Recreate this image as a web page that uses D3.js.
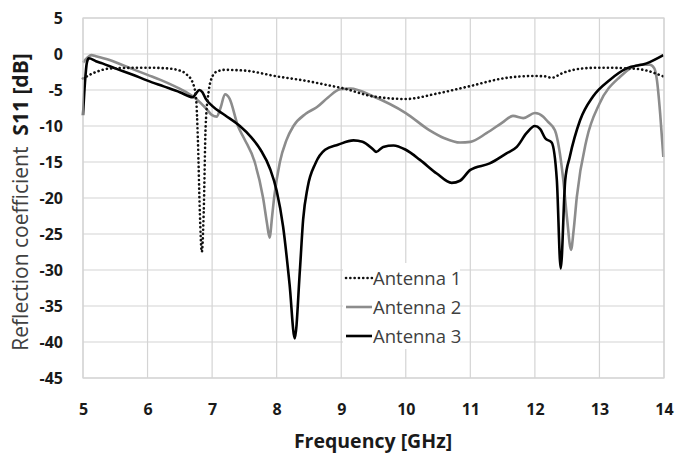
<!DOCTYPE html>
<html><head><meta charset="utf-8">
<script src="https://cdn.jsdelivr.net/npm/d3@7"></script>
<style>body{margin:0;background:#fff}svg{display:block}</style>
</head><body>
<svg id="c" width="676" height="453"></svg>
<script>
const xTicks = [5,6,7,8,9,10,11,12,13,14];
const yTicks = [5,0,-5,-10,-15,-20,-25,-30,-35,-40,-45];
const seriesNames = ["Antenna 1","Antenna 2","Antenna 3"];

const ant1F = [5.0,5.1,5.2,5.3,5.42,5.6,6.0,6.3,6.5,6.6,6.7,6.75,6.78,6.81,6.84,6.87,6.9,6.95,7.0,7.07,7.2,7.5,8.0,8.5,8.83,9.0,9.5,10.0,10.48,11.0,11.5,12.0,12.15,12.26,12.44,12.75,13.0,13.47,13.73,13.9,14.0];
const ant1V = [-3.4,-2.9,-2.5,-2.2,-2.0,-1.95,-1.9,-2.0,-2.3,-2.8,-4.0,-6.0,-12,-22,-27.5,-22,-10,-5.0,-3.2,-2.45,-2.2,-2.3,-3.1,-3.8,-4.4,-4.7,-5.9,-6.25,-5.5,-4.45,-3.4,-3.05,-3.1,-3.3,-2.6,-2.0,-1.9,-2.0,-2.3,-2.8,-3.15];

const ant2F = [5.0,5.07,5.13,5.2,5.4,5.6,5.8,6.0,6.2,6.4,6.6,6.75,6.9,7.0,7.07,7.13,7.2,7.27,7.4,7.5,7.66,7.79,7.85,7.89,7.93,7.96,8.05,8.15,8.26,8.45,8.62,8.8,8.98,9.14,9.5,10.0,10.37,10.6,10.84,11.0,11.25,11.5,11.66,11.82,12.0,12.13,12.2,12.31,12.44,12.5,12.56,12.6,12.65,12.8,13.0,13.32,13.63,13.78,13.85,13.89,13.94,13.99];
const ant2V = [-1.2,-0.5,-0.15,-0.3,-0.8,-1.5,-2.2,-2.9,-3.6,-4.4,-5.3,-6.2,-7.5,-8.5,-8.7,-7.5,-5.6,-6.2,-10,-11.8,-15,-20,-23.5,-25.5,-22.5,-20,-15,-12,-10,-8.3,-7.4,-6,-4.9,-4.8,-5.9,-8.2,-10.6,-11.7,-12.3,-12.2,-11.0,-9.5,-8.6,-8.9,-8.2,-8.7,-9.4,-10.6,-17.5,-23,-27.2,-24.5,-19.8,-11.9,-6.9,-3.15,-1.5,-1.5,-2.0,-3.6,-8.2,-14.3];

const ant3F = [5.0,5.03,5.06,5.09,5.2,5.3,5.5,5.75,6.0,6.25,6.5,6.7,6.75,6.8,6.85,6.9,7.0,7.2,7.43,7.6,7.75,7.9,8.0,8.1,8.2,8.28,8.36,8.41,8.48,8.6,8.75,8.95,9.19,9.33,9.5,9.54,9.65,9.81,10.0,10.22,10.48,10.71,10.84,11.0,11.3,11.56,11.72,11.87,12.0,12.08,12.16,12.26,12.34,12.4,12.47,12.54,12.7,12.9,13.16,13.42,13.73,13.99];
const ant3V = [-8.5,-4.0,-1.2,-0.6,-1.0,-1.3,-2.0,-2.8,-3.7,-4.5,-5.3,-6.0,-5.5,-5.0,-5.3,-6.2,-7.2,-8.5,-10.0,-11.5,-13.3,-16.0,-19.0,-24.0,-32.0,-39.5,-30,-23,-18.5,-15.2,-13.3,-12.6,-12.0,-12.2,-13.3,-13.6,-12.9,-12.7,-13.3,-14.7,-16.6,-17.9,-17.6,-16.1,-15.2,-13.8,-12.9,-11.0,-10.0,-10.4,-11.7,-12.3,-17.5,-29.8,-17.5,-14.3,-9.2,-5.9,-3.6,-2.0,-1.3,-0.15];

const svg = d3.select("#c");
const L = 83, R = 664, T = 18, B = 378;
const x = d3.scaleLinear().domain([5,14]).range([L,R]);
const y = d3.scaleLinear().domain([-45,5]).range([B,T]);
const font = "'Open Sans', 'Liberation Sans', sans-serif";

// gridlines
const g = svg.append("g");
g.selectAll(".vg").data(xTicks).enter().append("line")
  .attr("x1", d=>x(d)).attr("x2", d=>x(d)).attr("y1", T).attr("y2", B)
  .attr("stroke", "#d4d4d4").attr("stroke-width", 1.2);
g.selectAll(".hg").data(yTicks).enter().append("line")
  .attr("x1", L).attr("x2", R).attr("y1", d=>y(d)).attr("y2", d=>y(d))
  .attr("stroke", "#d4d4d4").attr("stroke-width", 1.2);

// axes (labels only)
const fmt = d => String(d);
const xAxis = d3.axisBottom(x).tickValues(xTicks).tickSize(0).tickPadding(0).tickFormat(fmt);
const xg = svg.append("g").attr("transform", `translate(0,${B+37})`).call(xAxis);
xg.select(".domain").remove();
xg.selectAll("text").attr("dy", 0).attr("font-family", font).attr("font-weight", "bold").attr("font-size", 16).attr("fill", "#1a1a1a");

const yAxis = d3.axisLeft(y).tickValues(yTicks).tickSize(0).tickPadding(0).tickFormat(fmt);
const yg = svg.append("g").attr("transform", `translate(${L-20},0)`).call(yAxis);
yg.select(".domain").remove();
yg.selectAll("text").attr("dy", "0.36em").attr("font-family", font).attr("font-weight", "bold").attr("font-size", 16).attr("fill", "#1a1a1a");

// titles
svg.append("text").attr("x", 373).attr("y", 448).attr("text-anchor", "middle")
  .attr("font-family", font).attr("font-weight", "bold").attr("font-size", 19.5).attr("fill", "#1a1a1a")
  .text("Frequency [GHz]");
const yt = svg.append("text").attr("transform", "translate(28,202) rotate(-90)").attr("text-anchor", "middle")
  .attr("font-family", font).attr("font-size", 21).attr("fill", "#404040");
yt.append("tspan").text("Reflection coefficient\u00a0\u00a0");
yt.append("tspan").attr("font-weight", "bold").attr("fill", "#1a1a1a").text("S11 [dB]");

// lines
const line = d3.line().x(d=>x(d[0])).y(d=>y(d[1])).curve(d3.curveMonotoneX);
const zip = (a,b)=>a.map((v,i)=>[v,b[i]]);
const styles = [
  {stroke:"#111", width:2.6, dash:"0.1 4.2", cap:"round"},
  {stroke:"#8c8c8c", width:2.6, dash:null, cap:"butt"},
  {stroke:"#000", width:2.6, dash:null, cap:"butt"}
];
const data = [zip(ant1F,ant1V), zip(ant2F,ant2V), zip(ant3F,ant3V)];
const order = [1,2,0];
order.forEach(i=>{
  svg.append("path").datum(data[i]).attr("d", line).attr("fill","none")
    .attr("stroke", styles[i].stroke).attr("stroke-width", styles[i].width)
    .attr("stroke-dasharray", styles[i].dash).attr("stroke-linecap", styles[i].cap)
    .attr("stroke-linejoin","round");
});

// plot border
svg.append("rect").attr("x", L).attr("y", T).attr("width", R-L).attr("height", B-T)
  .attr("fill","none").attr("stroke","#d4d4d4").attr("stroke-width",1.2);

// legend
const lg = svg.append("g");
lg.append("rect").attr("x", 343).attr("y", 263).attr("width", 117).attr("height", 86).attr("fill", "#fff");
seriesNames.forEach((n,i)=>{
  const yy = 278 + i*29;
  lg.append("line").attr("x1", 346).attr("x2", 372).attr("y1", yy).attr("y2", yy)
    .attr("stroke", styles[i].stroke).attr("stroke-width", styles[i].width)
    .attr("stroke-dasharray", i===0 ? "0.1 4.2" : null).attr("stroke-linecap", i===0 ? "round" : "butt");
  lg.append("text").attr("x", 373).attr("y", yy).attr("dy","0.36em")
    .attr("font-family", font).attr("font-size", 18.5).attr("fill", "#404040").text(n);
});
</script>
</body></html>
